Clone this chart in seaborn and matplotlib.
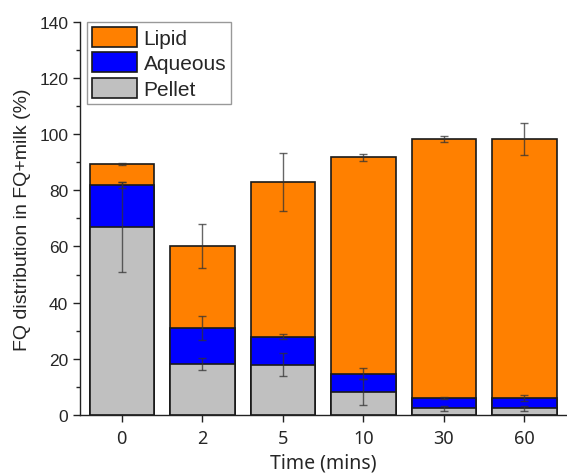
import numpy as np
import pandas as pd
import matplotlib
matplotlib.use("Agg")
import matplotlib.pyplot as plt
import seaborn as sns
from matplotlib.patches import Patch

times = ["0", "2", "5", "10", "30", "60"]
pellet = [66.9, 18.2, 17.9, 8.1, 2.3, 2.3]
aqueous = [15.0, 12.8, 10.0, 6.6, 3.8, 3.8]
lipid = [7.5, 29.3, 55.2, 77.1, 92.2, 92.3]
pellet_err = [16.0, 2.2, 4.2, 4.6, 0.8, 0.8]
aqueous_err = [1.0, 4.2, 1.0, 2.0, 0.3, 1.0]
lipid_err = [0.3, 7.8, 10.3, 1.2, 1.2, 5.7]

sns.set_theme(style="ticks")
plt.rcParams["font.family"] = ["Liberation Sans", "DejaVu Sans"]

df = pd.DataFrame({"time": times, "pellet": pellet, "aqueous": aqueous, "lipid": lipid})
df["aq_top"] = df["pellet"] + df["aqueous"]
df["total"] = df["aq_top"] + df["lipid"]

fig = plt.figure(figsize=(5.67, 4.77), dpi=100)
ax = fig.add_axes([0.141, 0.128, 0.859, 0.824])

c_lipid = "#ff8000"
c_aq = "#0000ff"
c_pel = "#c0c0c0"
kw = dict(edgecolor="#1a1a1a", linewidth=1.2, width=0.8, errorbar=None, ax=ax)
sns.barplot(data=df, x="time", y="total", color=c_lipid, saturation=1, **kw)
sns.barplot(data=df, x="time", y="aq_top", color=c_aq, saturation=1, **kw)
sns.barplot(data=df, x="time", y="pellet", color=c_pel, saturation=1, **kw)

xs = np.arange(len(times))
ekw = dict(fmt="none", ecolor="#333333", elinewidth=1.0, capsize=3, capthick=1.0, alpha=0.75, zorder=5)
ax.errorbar(xs, df["total"], yerr=lipid_err, **ekw)
ax.errorbar(xs, df["aq_top"], yerr=aqueous_err, **ekw)
ax.errorbar(xs, df["pellet"], yerr=pellet_err, **ekw)

ax.set_ylim(0, 140)
ax.set_xlim(-0.52, 5.53)
ax.set_yticks(np.arange(0, 141, 20))
ax.set_yticks(np.arange(10, 141, 20), minor=True)
ax.set_xticks(xs)
ax.set_xticklabels(times, fontsize=13, family=["Noto Sans", "DejaVu Sans"])
ax.tick_params(axis="both", which="major", length=5, width=1, direction="out", color="#222222")
ax.tick_params(axis="y", which="major", labelsize=12.5)
ax.tick_params(axis="x", which="major", pad=5)
ax.tick_params(axis="y", which="minor", length=3, width=1, color="#222222")
ax.set_xlabel("Time (mins)", fontsize=14, family=["Noto Sans", "DejaVu Sans"], labelpad=4)
ax.set_ylabel("FQ distribution in FQ+milk (%)", fontsize=14, family=["Liberation Sans", "DejaVu Sans"], labelpad=6)
sns.despine(ax=ax)
for s in ["left", "bottom"]:
    ax.spines[s].set_color("#222222")
    ax.spines[s].set_linewidth(1.0)

handles = [Patch(facecolor=c_lipid, edgecolor="#1a1a1a", linewidth=1.2, label="Lipid"),
           Patch(facecolor=c_aq, edgecolor="#1a1a1a", linewidth=1.2, label="Aqueous"),
           Patch(facecolor=c_pel, edgecolor="#1a1a1a", linewidth=1.2, label="Pellet")]
leg = ax.legend(handles=handles, loc="upper left", bbox_to_anchor=(0.015, 1.0),
                prop={"family": ["Liberation Sans", "DejaVu Sans"], "size": 15},
                frameon=True, fancybox=False, edgecolor="#808080", handlelength=2.15,
                handleheight=1.1, labelspacing=0.2, borderpad=0.25, handletextpad=0.3, borderaxespad=0.0)
leg.get_frame().set_linewidth(1.0)

fig.savefig("out.png", dpi=100)
